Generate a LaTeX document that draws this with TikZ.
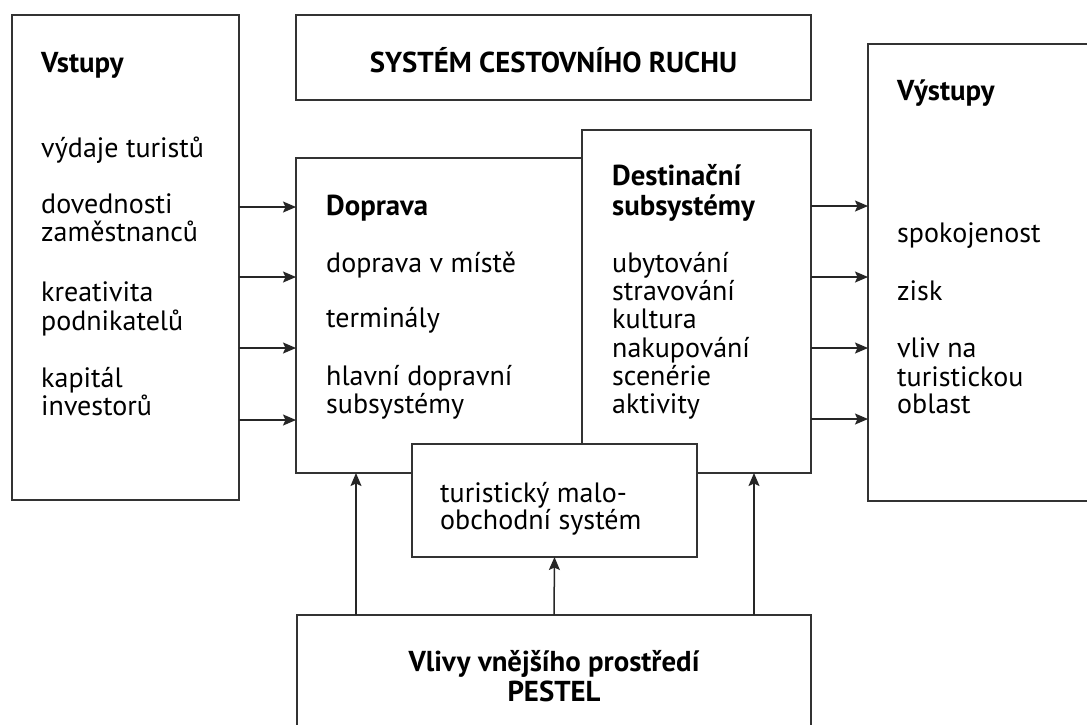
\documentclass[tikz,border=0pt]{standalone}
\usepackage{fontspec}
\setmainfont{PT Sans}
\usetikzlibrary{arrows.meta}
\tikzset{
  box/.style={draw=black!80, line width=1.5pt, fill=white, rectangle, inner sep=0pt, outer sep=0pt, anchor=north west},
  txt/.style={anchor=base west, inner sep=0pt, font=\fontsize{28}{28}\selectfont},
  btxt/.style={txt, font=\fontsize{28.8}{28}\selectfont\bfseries},
  ctxt/.style={txt, anchor=base, font=\fontsize{28.8}{28}\selectfont\bfseries},
  arr/.style={draw=black!85, line width=1.5pt, -{Stealth[length=13pt,width=11pt,inset=2.5pt]}},
}
\begin{document}
\begin{tikzpicture}[x=1pt,y=-1pt]
\clip (0,0) rectangle (1087,724);
\fill[white] (0,0) rectangle (1087,724);
% boxes
\node[box, minimum width=227pt, minimum height=485pt] (vstupy) at (12,15) {};
\node[box, minimum width=515pt, minimum height=85pt] (system) at (296,15) {};
\node[box, minimum width=260pt, minimum height=457pt] (vystupy) at (868,44) {};
\node[box, minimum width=286pt, minimum height=315pt] (doprava) at (296,158) {};
\node[box, minimum width=229pt, minimum height=343pt] (dest) at (582,130) {};
\node[box, minimum width=285pt, minimum height=113pt] (malo) at (412,444) {};
\node[box, minimum width=514pt, minimum height=150pt] (vlivy) at (297,615) {};
% texts
\node[ctxt] (tsys) at (553.5,72) {SYSTÉM CESTOVNÍHO RUCHU};
\node[btxt] (tvst) at (41,72) {Vstupy};
\node[txt] (v1) at (41,157) {výdaje turistů};
\node[txt] (v2) at (41,213) {dovednosti};
\node[txt] (v3) at (41,241) {zaměstnanců};
\node[txt] (v4) at (41,301) {kreativita};
\node[txt] (v5) at (41,330) {podnikatelů};
\node[txt] (v6) at (41,387) {kapitál};
\node[txt] (v7) at (41,415) {investorů};
\node[btxt] (tdop) at (326,215) {Doprava};
\node[txt] (d1) at (326,272) {doprava v místě};
\node[txt] (d2) at (326,327) {terminály};
\node[txt] (d3) at (326,385) {hlavní dopravní};
\node[txt] (d4) at (326,413) {subsystémy};
\node[btxt] (tdes1) at (612,185) {Destinační};
\node[btxt] (tdes2) at (612,215) {subsystémy};
\node[txt] (s1) at (612,272) {ubytování};
\node[txt] (s2) at (612,300) {stravování};
\node[txt] (s3) at (612,328) {kultura};
\node[txt] (s4) at (612,357) {nakupování};
\node[txt] (s5) at (612,385) {scenérie};
\node[txt] (s6) at (612,413) {aktivity};
\node[txt] (m1) at (440,502) {turistický malo-};
\node[txt] (m2) at (440,529) {obchodní systém};
\node[btxt] (tvys) at (897,100) {Výstupy};
\node[txt] (o1) at (897,242) {spokojenost};
\node[txt] (o2) at (897,300) {zisk};
\node[txt] (o3) at (897,357) {vliv na};
\node[txt] (o4) at (897,386) {turistickou};
\node[txt] (o5) at (897,413) {oblast};
\node[ctxt] (tvl1) at (554,671) {Vlivy vnějšího prostředí};
\node[ctxt] (tvl2) at (554,701) {PESTEL};
% arrows in
\foreach \y in {207,277,348,420}{
  \draw[arr] (vstupy.east |- 0,\y) -- (doprava.west |- 0,\y);
}
% arrows out
\foreach \y in {206,277,348,419}{
  \draw[arr] (dest.east |- 0,\y) -- (vystupy.west |- 0,\y);
}
% arrows up
\draw[arr] (vlivy.north -| 356,0) -- (doprava.south -| 356,0);
\draw[arr] (vlivy.north) -- (malo.south);
\draw[arr] (vlivy.north -| 754,0) -- (dest.south -| 754,0);
\end{tikzpicture}
\end{document}
